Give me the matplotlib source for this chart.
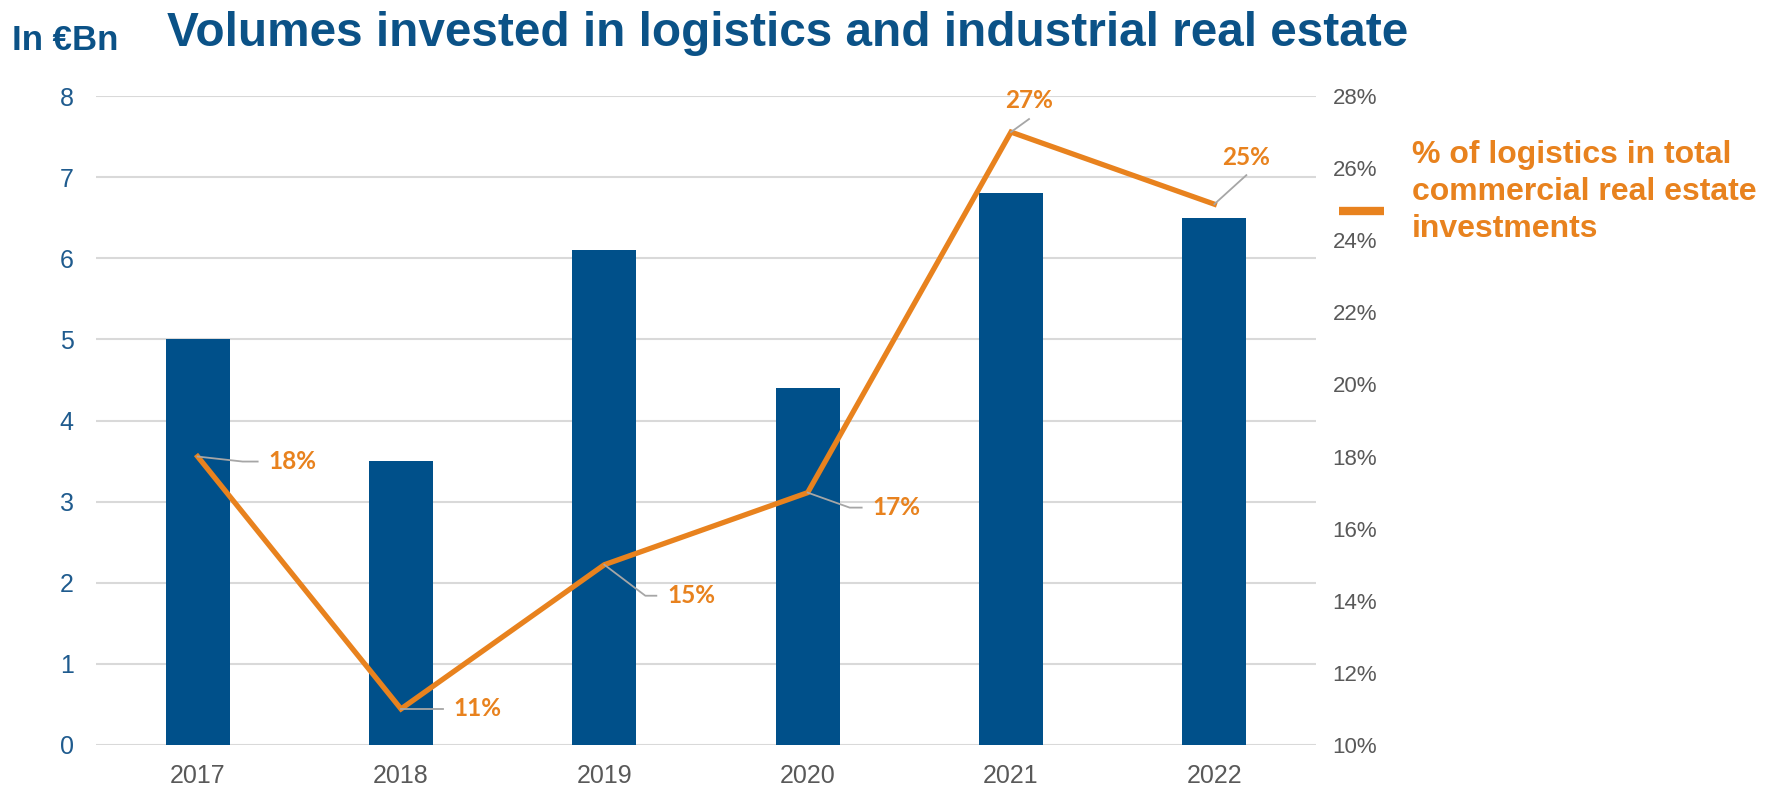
import matplotlib
matplotlib.use('Agg')
import matplotlib.pyplot as plt
import numpy as np

# data
years = ['2017', '2018', '2019', '2020', '2021', '2022']
volumes = [5.0, 3.5, 6.1, 4.4, 6.8, 6.5]          # in EUR bn
share_pct = [18, 11, 15, 17, 27, 25]               # % of total commercial real estate
left_ticks = [0, 1, 2, 3, 4, 5, 6, 7, 8]
right_ticks = [10, 12, 14, 16, 18, 20, 22, 24, 26, 28]

BLUE = '#00508A'
TITLE_BLUE = '#0B5287'
ORANGE = '#E8821E'
GREY = '#595959'
GRID = '#D9D9D9'
TICKFONT = ['Liberation Sans', 'DejaVu Sans']

# label leader offsets in pixels: bend, end, text anchor, alignment
label_style = [
    ((45, 5), (60, 5), (71, 5), 'left'),
    ((30, 0), (42, 0), (52, 0), 'left'),
    ((41, 31), (52, 31), (63, 31), 'left'),
    ((42, 15), (54, 15), (65, 15), 'left'),
    ((18, -13), (18, -13), (18, -32), 'center'),
    ((32, -29), (32, -29), (32, -47), 'center'),
]

fig = plt.figure(figsize=(17.71, 7.86), dpi=100)
ax = fig.add_axes([96 / 1771, 41 / 786, (1316 - 96) / 1771, (745 - 96) / 786])
ax2 = ax.twinx()

x = np.arange(len(years))
ax.bar(x, volumes, width=0.315, color=BLUE, zorder=3)
ax.set_xlim(-0.5, len(years) - 0.5)
ax.set_ylim(0, 8)
ax.set_yticks(left_ticks)
ax.set_xticks(x)
ax.set_xticklabels(years)
ax.grid(axis='y', color=GRID, linewidth=1.5, zorder=0)
ax.set_axisbelow(True)
for s in ax.spines.values():
    s.set_visible(False)
ax.tick_params(axis='y', length=0, pad=16, labelcolor='#1F5B8E', labelsize=18)
ax.tick_params(axis='x', length=0, pad=14, labelcolor=GREY, labelsize=18)
for lab in ax.get_xticklabels() + ax.get_yticklabels():
    lab.set_family(TICKFONT)

ax2.plot(x, share_pct, color=ORANGE, linewidth=3.8, zorder=5, solid_joinstyle='miter')
ax2.set_ylim(10, 28)
ax2.set_yticks(right_ticks)
ax2.set_yticklabels(['%d%%' % t for t in right_ticks])
for s in ax2.spines.values():
    s.set_visible(False)
ax2.tick_params(axis='y', length=0, pad=12, labelcolor=GREY, labelsize=16)
for lab in ax2.get_yticklabels():
    lab.set_family(TICKFONT)

# data labels with grey leader lines
fig.canvas.draw()
to_disp = ax2.transData
to_data = ax2.transData.inverted()
for xi, yi, (bend, end, txt, ha) in zip(x, share_pct, label_style):
    px, py = to_disp.transform((xi, yi))
    pts = [(px, py), (px + bend[0], py - bend[1]), (px + end[0], py - end[1])]
    pts = to_data.transform(pts)
    ax2.plot(pts[:, 0], pts[:, 1], color='#A6A6A6', linewidth=1.3, zorder=6)
    tx, ty = to_data.transform((px + txt[0], py - txt[1]))
    ax2.text(tx, ty, '%d%%' % yi, color=ORANGE, fontsize=17.5, fontweight='bold',
             family=['Lato', 'DejaVu Sans'], ha=ha, va='center', zorder=7)

fig.text(167 / 1771, 1 - 34 / 786, 'Volumes invested in logistics and industrial real estate',
         color=TITLE_BLUE, fontsize=34.4, fontweight='bold', family='Liberation Sans',
         ha='left', va='center')
fig.text(12 / 1771, 1 - 41 / 786, 'In €Bn', color=TITLE_BLUE, fontsize=25,
         fontweight='bold', family='Liberation Sans', ha='left', va='center')

# legend for the line series
fig.lines.append(plt.Line2D([1339 / 1771, 1384 / 1771], [1 - 211 / 786, 1 - 211 / 786],
                            transform=fig.transFigure, color=ORANGE, linewidth=6,
                            solid_capstyle='butt'))
fig.text(1412 / 1771, 1 - 192 / 786,
         '% of logistics in total\ncommercial real estate\ninvestments',
         color=ORANGE, fontsize=23, fontweight='bold', family='Liberation Sans',
         ha='left', va='center', linespacing=1.3)

fig.savefig('out.png', dpi=100)
